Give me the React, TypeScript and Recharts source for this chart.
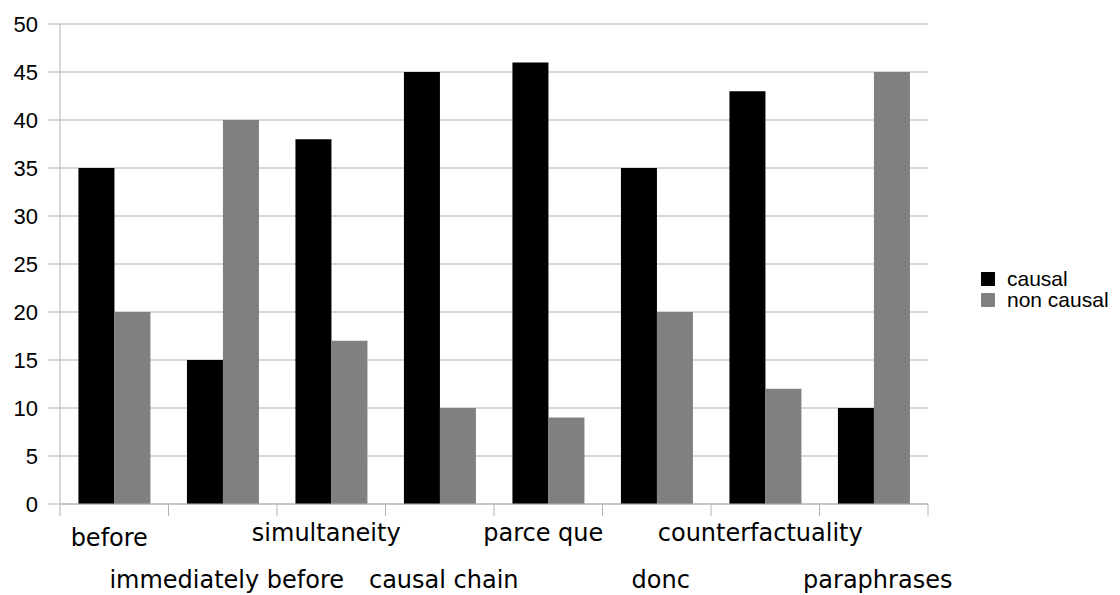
import React from 'react';
import { BarChart, Bar, XAxis, YAxis, CartesianGrid } from 'recharts';

const categories = [
  'before',
  'immediately before',
  'simultaneity',
  'causal chain',
  'parce que',
  'donc',
  'counterfactuality',
  'paraphrases',
];
const causal = [35, 15, 38, 45, 46, 35, 43, 10];
const nonCausal = [20, 40, 17, 10, 9, 20, 12, 45];
const yTicks = [0, 5, 10, 15, 20, 25, 30, 35, 40, 45, 50];

const data = categories.map((name, i) => ({
  name,
  causal: causal[i],
  nonCausal: nonCausal[i],
}));

const legendItems = [
  { label: 'causal', color: '#000000' },
  { label: 'non causal', color: '#808080' },
];

const GRID = '#b3b3b3';
const HALF_BAND = 868 / categories.length / 2;

// labels alternate between two rows, tick marks sit on the category boundaries
const CategoryTick = (props: any) => {
  const { x, payload, index } = props;
  const lower = index % 2 === 1;
  const last = index === categories.length - 1;
  return (
    <g>
      <line x1={x - HALF_BAND} x2={x - HALF_BAND} y1={504} y2={516} stroke={GRID} />
      {last && <line x1={x + HALF_BAND} x2={x + HALF_BAND} y1={504} y2={516} stroke={GRID} />}
      <text
        x={lower ? x + 4 : x - 5}
        y={lower ? 588 : index === 0 ? 546 : 541}
        textAnchor="middle"
        fontFamily="DejaVu Sans"
        fontSize={24}
        fill="#000"
      >
        {payload.value}
      </text>
    </g>
  );
};

export default function App() {
  return (
    <div style={{ position: 'relative', width: 1120, height: 595, background: '#fff' }}>
      <style>{'body{margin:0}'}</style>
      <BarChart
        width={1120}
        height={595}
        data={data}
        margin={{ top: 24, right: 192, bottom: 0, left: 0 }}
        barCategoryGap="17%"
        barGap={0}
      >
        <CartesianGrid vertical={false} stroke={GRID} />
        <XAxis
          dataKey="name"
          height={91}
          axisLine={{ stroke: GRID }}
          tickLine={false}
          interval={0}
          tick={<CategoryTick />}
        />
        <YAxis
          domain={[0, 50]}
          ticks={yTicks}
          width={60}
          axisLine={{ stroke: GRID }}
          tickLine={{ stroke: GRID }}
          tickSize={12}
          tickMargin={10}
          interval={0}
          tick={{ fill: '#000', fontFamily: 'Liberation Sans', fontSize: 22 }}
        />
        <YAxis
          yAxisId="right"
          orientation="right"
          domain={[0, 50]}
          width={0}
          axisLine={{ stroke: GRID }}
          tick={false}
          tickLine={false}
        />
        <Bar dataKey="causal" name="causal" fill="#000000" isAnimationActive={false} />
        <Bar dataKey="nonCausal" name="non causal" fill="#808080" isAnimationActive={false} />
      </BarChart>
      <div
        style={{
          position: 'absolute',
          left: 981,
          top: 268,
          fontFamily: 'Liberation Sans',
          fontSize: 21,
          lineHeight: '21px',
          color: '#000',
        }}
      >
        {legendItems.map((it) => (
          <div key={it.label} style={{ display: 'flex', alignItems: 'center', height: 21, whiteSpace: 'nowrap' }}>
            <span style={{ width: 14, height: 14, background: it.color, marginRight: 12 }} />
            <span>{it.label}</span>
          </div>
        ))}
      </div>
    </div>
  );
}
